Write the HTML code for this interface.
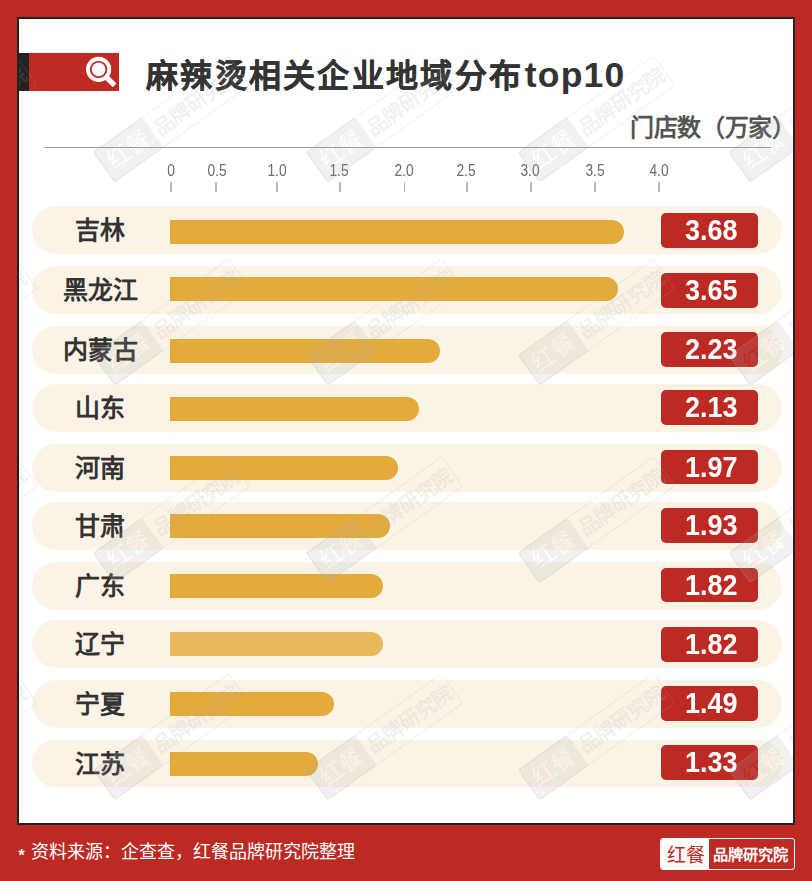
<!DOCTYPE html>
<html lang="zh-CN"><head><meta charset="utf-8">
<style>
*{margin:0;padding:0;box-sizing:border-box}
html,body{width:812px;height:881px;overflow:hidden}
body{background:#bd2a23;position:relative;font-family:"Liberation Sans",sans-serif;color:#333}
.panel{position:absolute;left:17px;top:17px;width:778px;height:808px;border:2px solid #222;background:#fff;overflow:hidden}
.abs{position:absolute}
.tbar{left:17px;top:53px;width:102px;height:38px;background:#bd2a23}
.tblk{left:17px;top:53px;width:12px;height:38px;background:#222}
.title{left:146px;top:51px;font-size:32px;font-weight:bold;color:#333;white-space:nowrap;line-height:48px;letter-spacing:2.3px;-webkit-text-stroke:0.3px #333}
.title span{-webkit-text-stroke:0}
.title span{letter-spacing:1.2px;font-size:35.5px;margin-left:1.5px}
.unit{right:16.5px;top:110px;font-size:24px;letter-spacing:-0.4px;font-weight:bold;color:#555;white-space:nowrap;line-height:36px}
.hline{left:44px;top:147px;width:727px;height:1px;background:#999}
.tl{top:161.3px;font-size:15px;color:#666;line-height:20px;width:40px;margin-left:-20px;text-align:center}
.tk{top:182px;width:1.5px;height:9.5px;background:#b8b8b8;margin-left:-0.75px}
.pill{left:32px;width:750px;height:47.8px;border-radius:24px;background:#fbf4e6}
.lab{left:40px;width:120px;text-align:center;font-size:25px;font-weight:bold;color:#333;line-height:48px}
.bar{left:170px;height:23.8px;border-radius:0 12px 12px 0;background:#e4ab3b}
.bar.light{background:#e9b85b}
.val{left:661px;width:97px;height:34.8px;border-radius:5px;background:#bd2a23;color:#fff;font-weight:bold;font-size:30px;line-height:34px;padding-left:3px;text-align:center}
.val span{display:inline-block;transform:scaleX(0.9)}
.foot{left:30.5px;top:838.5px;font-size:18px;font-weight:500;color:#fff;line-height:26px;white-space:nowrap}
.ast{left:18.5px;top:845.5px;font-size:16px;font-weight:bold;color:#fff;line-height:20px}
.tl{font-size:16px;color:#6a6a6a;transform:scaleX(0.86)}
</style></head>
<body>
<div class="panel"></div>
<div class="abs tbar"></div>
<div class="abs tblk"></div>
<svg class="abs" style="left:80px;top:50px" width="44" height="44" viewBox="0 0 44 44">
  <circle cx="18.6" cy="19.4" r="10.65" fill="none" stroke="#fff" stroke-width="3.9"/>
  <circle cx="18.6" cy="19.4" r="6.8" fill="#fff"/>
  <line x1="25" y1="25.8" x2="34.6" y2="35.4" stroke="#fff" stroke-width="5.2"/>
</svg>
<div class="abs title">麻辣烫相关企业地域分布<span>top10</span></div>
<div class="abs unit">门店数（万家）</div>
<div class="abs hline"></div>

<div class="abs tl" style="left:171px">0</div>
<div class="abs tl" style="left:217px">0.5</div>
<div class="abs tl" style="left:276.5px">1.0</div>
<div class="abs tl" style="left:339px">1.5</div>
<div class="abs tl" style="left:403.5px">2.0</div>
<div class="abs tl" style="left:466px">2.5</div>
<div class="abs tl" style="left:530px">3.0</div>
<div class="abs tl" style="left:594.5px">3.5</div>
<div class="abs tl" style="left:658.5px">4.0</div>
<div class="abs tk" style="left:171px"></div>
<div class="abs tk" style="left:216px"></div>
<div class="abs tk" style="left:277px"></div>
<div class="abs tk" style="left:340px"></div>
<div class="abs tk" style="left:404.5px"></div>
<div class="abs tk" style="left:467px"></div>
<div class="abs tk" style="left:531px"></div>
<div class="abs tk" style="left:595px"></div>
<div class="abs tk" style="left:659px"></div>

<!--ROWS-->
<div class="abs pill" style="top:206.0px"></div>
<div class="abs lab" style="top:206.0px">吉林</div>
<div class="abs bar" style="top:219.9px;width:453.7px"></div>
<div class="abs val" style="top:212.9px"><span>3.68</span></div>
<div class="abs pill" style="top:266.1px"></div>
<div class="abs lab" style="top:266.1px">黑龙江</div>
<div class="abs bar" style="top:277.0px;width:447.5px"></div>
<div class="abs val" style="top:273.2px"><span>3.65</span></div>
<div class="abs pill" style="top:326.0px"></div>
<div class="abs lab" style="top:326.0px">内蒙古</div>
<div class="abs bar" style="top:339.1px;width:269.8px"></div>
<div class="abs val" style="top:332.1px"><span>2.23</span></div>
<div class="abs pill" style="top:384.2px"></div>
<div class="abs lab" style="top:384.2px">山东</div>
<div class="abs bar" style="top:397.0px;width:249.1px"></div>
<div class="abs val" style="top:390.0px"><span>2.13</span></div>
<div class="abs pill" style="top:444.0px"></div>
<div class="abs lab" style="top:444.0px">河南</div>
<div class="abs bar" style="top:455.9px;width:228.1px"></div>
<div class="abs val" style="top:449.6px"><span>1.97</span></div>
<div class="abs pill" style="top:502.2px"></div>
<div class="abs lab" style="top:502.2px">甘肃</div>
<div class="abs bar" style="top:514.1px;width:219.9px"></div>
<div class="abs val" style="top:507.9px"><span>1.93</span></div>
<div class="abs pill" style="top:561.9px"></div>
<div class="abs lab" style="top:561.9px">广东</div>
<div class="abs bar" style="top:574.2px;width:213.0px"></div>
<div class="abs val" style="top:567.5px"><span>1.82</span></div>
<div class="abs pill" style="top:620.1px"></div>
<div class="abs lab" style="top:620.1px">辽宁</div>
<div class="abs bar light" style="top:632.1px;width:213.0px"></div>
<div class="abs val" style="top:626.8px"><span>1.82</span></div>
<div class="abs pill" style="top:680.1px"></div>
<div class="abs lab" style="top:680.1px">宁夏</div>
<div class="abs bar" style="top:692.0px;width:164.0px"></div>
<div class="abs val" style="top:686.0px"><span>1.49</span></div>
<div class="abs pill" style="top:739.7px"></div>
<div class="abs lab" style="top:739.7px">江苏</div>
<div class="abs bar" style="top:751.9px;width:148.0px"></div>
<div class="abs val" style="top:745.3px"><span>1.33</span></div>
<!--/ROWS-->
<div class="abs ast">*</div>
<div class="abs foot">资料来源：企查查，红餐品牌研究院整理</div>
<!--LOGO-->
<div class="abs" style="left:660px;top:838px;width:135px;height:32px;border:1.2px solid #fff;border-radius:3px;overflow:hidden">
<div class="abs" style="left:0;top:0;width:48px;height:30px;background:#fff"></div>
<div class="abs" style="left:2px;top:1.5px;width:46px;line-height:30px;font-size:19px;font-weight:500;color:#bd2a23;text-align:center;white-space:nowrap">红餐</div>
<div class="abs" style="left:51.5px;top:0.5px;width:82px;line-height:30px;font-size:15.2px;font-weight:bold;color:#fff;white-space:nowrap">品牌研究院</div>
</div>
<!--/LOGO-->
<!--WM-->
<svg class="abs" style="left:19px;top:19px" width="774" height="804" viewBox="19 19 774 804">
<defs>
<mask id="ko" maskUnits="userSpaceOnUse" x="-90" y="-25" width="180" height="50">
<rect x="-90" y="-25" width="180" height="50" fill="#fff"/>
<text x="-53.25" y="8.2" font-size="23.5" font-family="Liberation Sans, sans-serif" font-weight="500" text-anchor="middle" fill="#000">红餐</text>
</mask>
<g id="wm" fill="rgb(170,170,170)" fill-opacity="0.17">
<rect x="-83.5" y="-18.5" width="60.5" height="37.5" rx="3" mask="url(#ko)"/>
<rect x="-82.9" y="-17.9" width="165.8" height="36.3" rx="3" fill="none" stroke="rgb(170,170,170)" stroke-opacity="0.15" stroke-width="1.2"/>
<text x="30" y="7.8" font-size="20.5" font-family="Liberation Sans, sans-serif" font-weight="bold" text-anchor="middle">品牌研究院</text>
</g>
</defs>
<use href="#wm" transform="translate(-41,118.6) rotate(-35.5)"/>
<use href="#wm" transform="translate(171.5,118.6) rotate(-35.5)"/>
<use href="#wm" transform="translate(384.5,118.6) rotate(-35.5)"/>
<use href="#wm" transform="translate(596.5,118.6) rotate(-35.5)"/>
<use href="#wm" transform="translate(807,118.6) rotate(-35.5)"/>
<use href="#wm" transform="translate(-41,321.8) rotate(-35.5)"/>
<use href="#wm" transform="translate(171.5,321.8) rotate(-35.5)"/>
<use href="#wm" transform="translate(384.5,321.8) rotate(-35.5)"/>
<use href="#wm" transform="translate(596.5,321.8) rotate(-35.5)"/>
<use href="#wm" transform="translate(807,321.8) rotate(-35.5)"/>
<use href="#wm" transform="translate(-41,519.4) rotate(-35.5)"/>
<use href="#wm" transform="translate(171.5,519.4) rotate(-35.5)"/>
<use href="#wm" transform="translate(384.5,519.4) rotate(-35.5)"/>
<use href="#wm" transform="translate(596.5,519.4) rotate(-35.5)"/>
<use href="#wm" transform="translate(807,519.4) rotate(-35.5)"/>
<use href="#wm" transform="translate(-41,736.5) rotate(-35.5)"/>
<use href="#wm" transform="translate(171.5,736.5) rotate(-35.5)"/>
<use href="#wm" transform="translate(384.5,736.5) rotate(-35.5)"/>
<use href="#wm" transform="translate(596.5,736.5) rotate(-35.5)"/>
<use href="#wm" transform="translate(807,736.5) rotate(-35.5)"/>
</svg>
<!--/WM-->
</body></html>
